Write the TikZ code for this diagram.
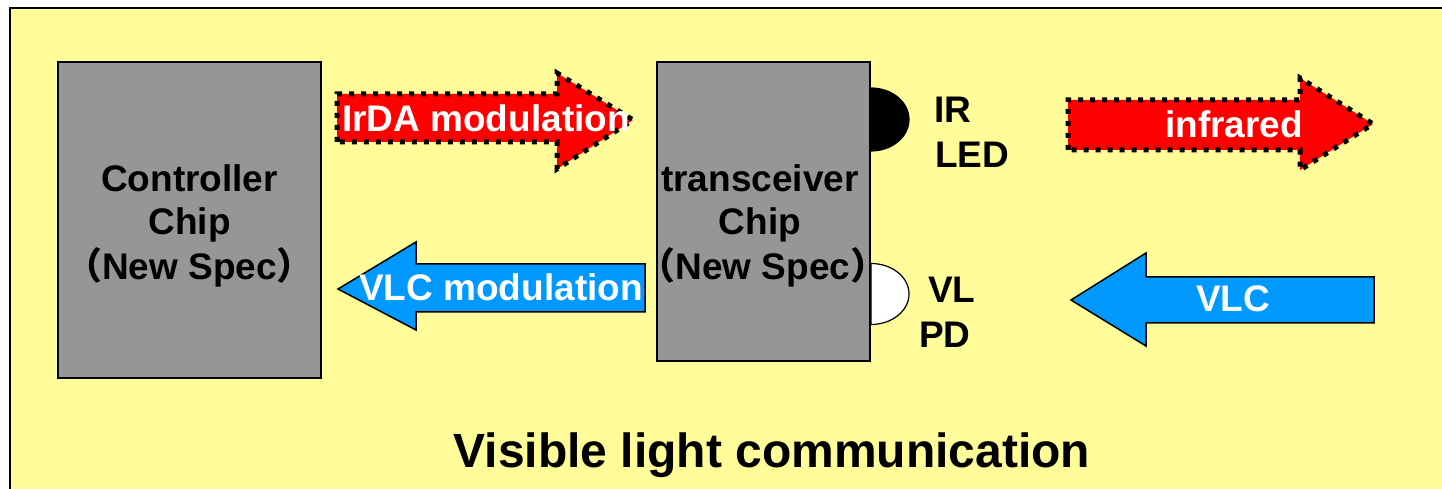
\documentclass[tikz,border=0pt]{standalone}
\usepackage{fontspec}
\setmainfont{Liberation Sans}
\newfontfamily\cjkf{Noto Sans CJK SC}
\definecolor{bgyellow}{HTML}{FFFC99}
\definecolor{chipgray}{HTML}{969696}
\definecolor{irred}{HTML}{FF0000}
\definecolor{vlcblue}{HTML}{0099FF}
\tikzset{
  chip/.style={draw=black, line width=1.5, fill=chipgray, inner sep=0},
  chiptext/.style={anchor=base, font=\bfseries\fontsize{37}{40}\selectfont, text=black, inner sep=0},
  labeltext/.style={anchor=base west, font=\bfseries\fontsize{37}{40}\selectfont, text=black, inner sep=0},
  arrowtext/.style={anchor=base, font=\bfseries\fontsize{37}{40}\selectfont, text=white, inner sep=0},
  redarrow/.style={fill=irred},
  dotborder/.style={draw=black, line width=5, dash pattern=on 5 off 7},
  bluearrow/.style={fill=vlcblue, draw=black, line width=1.5},
}
\begin{document}
\begin{tikzpicture}[x=1pt,y=1pt]
\useasboundingbox (0,0) rectangle (1442,489);
\fill[white] (0,0) rectangle (1442,489);
\fill[bgyellow] (10,0) rectangle (1442,481);
\draw[line width=2] (10,0) -- (10,481) -- (1442,481);

% chips
\node[chip, minimum width=263, minimum height=316] (ctrl) at (189.5,269) {};
\node[chip, minimum width=213, minimum height=299] (trx) at (763.5,277.5) {};

\node[chiptext] (c1) at (189.5,297) {Controller};
\node[chiptext] (c2) at (189.5,254) {Chip};
\node[chiptext] (c3) at (189.5,209) {{\cjkf （}New Spec{\cjkf ）}};

\node[chiptext] (t1) at (760,297) {transceiver};
\node[chiptext] (t2) at (760,254) {Chip};
\node[chiptext] (t3) at (763,209) {{\cjkf （}New Spec{\cjkf ）}};

% LED and PD
\draw[fill=black, line width=1.2] (871,401) arc[start angle=90, end angle=-90, x radius=38, y radius=31.5] -- cycle;
\draw[fill=white, line width=1.2] (871,225.5) arc[start angle=90, end angle=-90, x radius=38, y radius=30.5] -- cycle;

\node[labeltext] (ir) at (934,366) {IR};
\node[labeltext] (led) at (935,321) {LED};
\node[labeltext] (vl) at (928,186) {VL};
\node[labeltext] (pd) at (919,141) {PD};

% IrDA modulation arrow
\path[redarrow] (337,347) -- (337,395) -- (557,395) -- (557,416) -- (633,369) -- (557,320) -- (557,347) -- cycle;
\path[dotborder] (337,347) -- (337,395) -- (557,395) -- (557,416) -- (633,369) -- (557,320) -- (557,347) -- cycle;
\node[arrowtext] (irda) at (486,357) {IrDA modulation};

% infrared arrow
\path[redarrow] (1068,339) -- (1068,389) -- (1300,389) -- (1300,411) -- (1373,365) -- (1300,319) -- (1300,339) -- cycle;
\path[dotborder] (1068,339) -- (1068,389) -- (1300,389) -- (1300,411) -- (1373,365) -- (1300,319) -- (1300,339) -- cycle;
\node[arrowtext] (infra) at (1234,351) {infrared};

% VLC modulation arrow
\draw[bluearrow] (645,177) -- (645,225) -- (416,225) -- (416,247) -- (338,200) -- (416,159) -- (416,177) -- cycle;
\node[arrowtext] (vlcmod) at (501,188) {VLC modulation};

% VLC arrow
\draw[bluearrow] (1374,166) -- (1374,212) -- (1146,212) -- (1146,236) -- (1071,189) -- (1146,143) -- (1146,166) -- cycle;
\node[arrowtext] (vlc) at (1233,177) {VLC};

% title
\node[anchor=base, font=\bfseries\fontsize{48}{52}\selectfont, inner sep=0] (title) at (772,21) {Visible light communication};
\end{tikzpicture}
\end{document}
